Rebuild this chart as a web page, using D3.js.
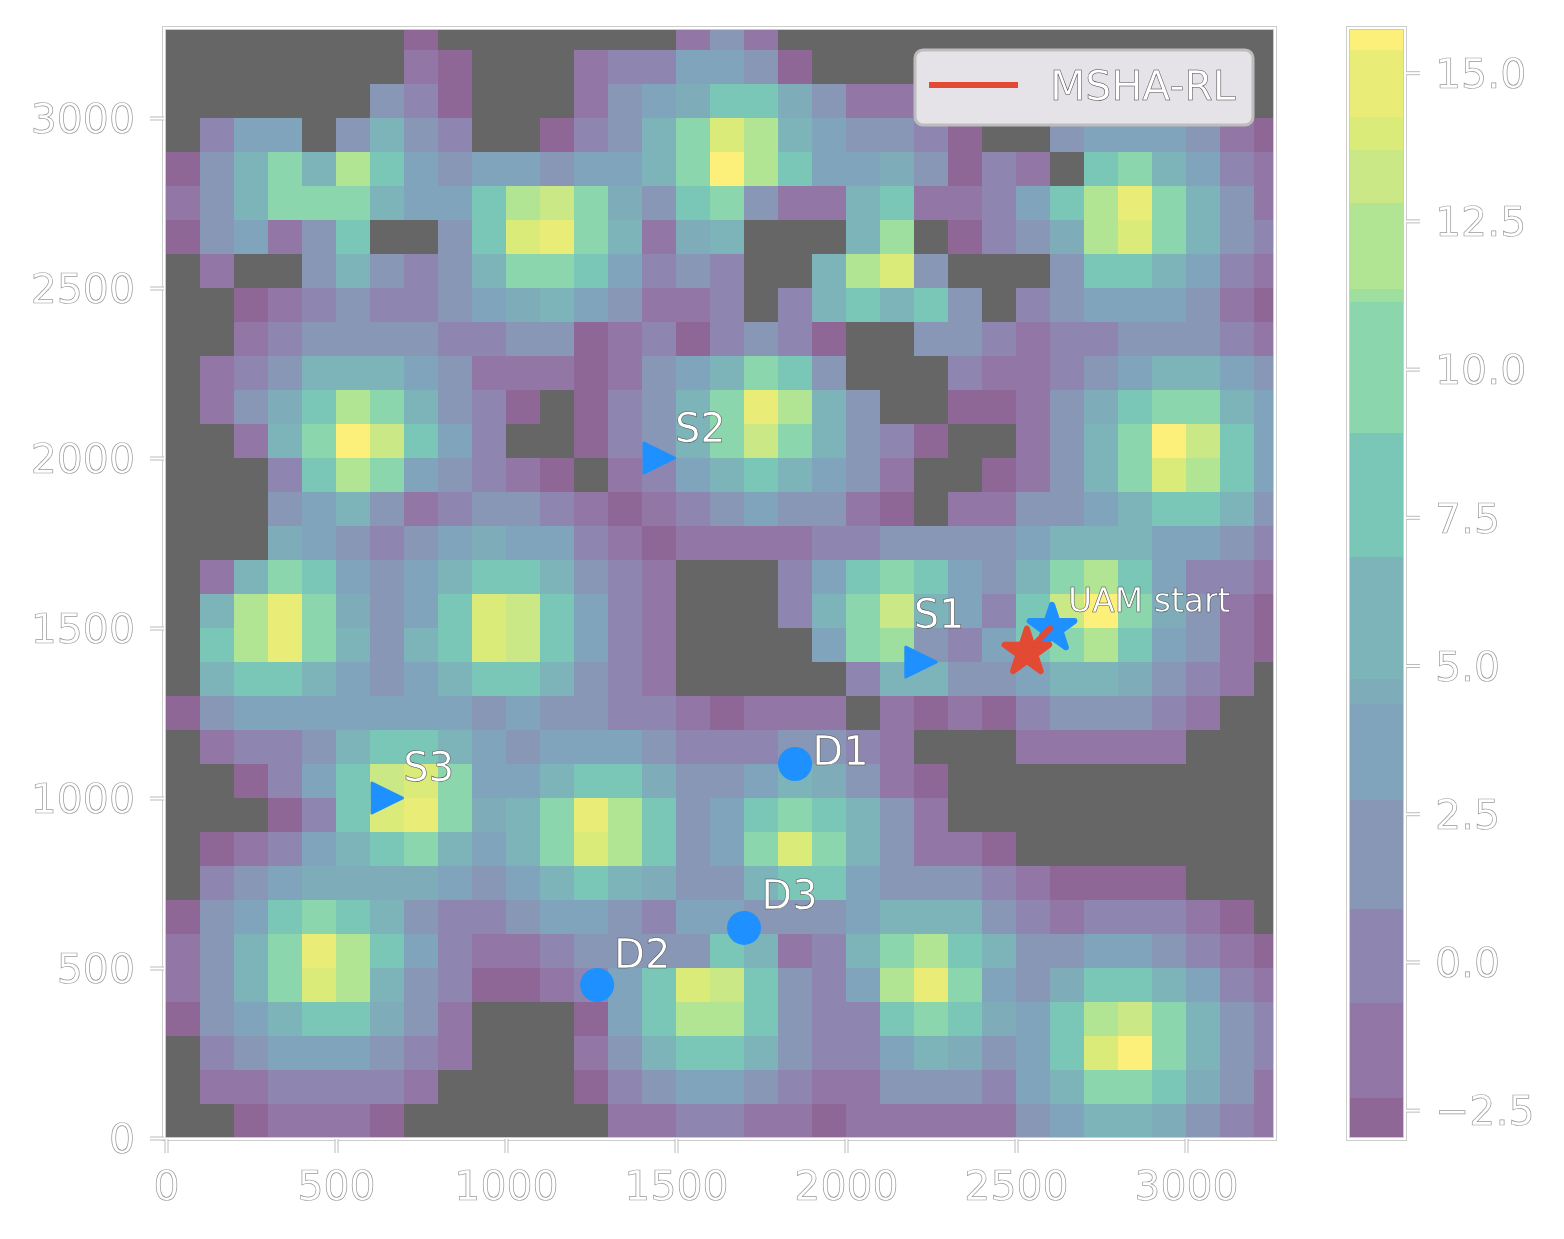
<!DOCTYPE html>
<html>
<head>
<meta charset="utf-8">
<script src="https://cdn.jsdelivr.net/npm/d3@7"></script>
<style>
  body { margin: 0; background: #fff; }
  text { font-family: "DejaVu Sans", sans-serif; filter: grayscale(1); }
</style>
</head>
<body>
<script>
// Data set
const _ = null; // no value, drawn grey
// rows run from the top of the map (y = 3200) to the bottom (y = 0)
const grid = [
[_,_,_,_,_,_,_,-2.6,_,_,_,_,_,_,_,-1.5,1.8,-1.5,_,_,_,_,_,_,_,_,_,_,_,_,_,_,_],
[_,_,_,_,_,_,_,-1.5,-2.6,_,_,_,-1.5,0,0,3.5,3.5,1.8,-2.6,_,_,_,_,_,_,_,_,_,_,_,_,_,_],
[_,_,_,_,_,_,1.8,0,-2.6,_,_,_,-1.5,1.8,3.5,4.6,7.9,7.9,4.6,1.8,-1.5,-1.5,_,_,_,_,_,_,_,_,_,_,_],
[_,0,3.5,3.5,_,1.8,5.8,1.8,0,_,_,-2.6,0,1.8,5.8,10,14,12,5.8,3.5,1.8,1.8,0,-2.6,_,_,1.8,3.5,3.5,3.5,1.8,-1.5,-2.6],
[-2.6,1.8,5.8,10,5.8,12,7.9,3.5,1.8,3.5,3.5,1.8,3.5,3.5,5.8,10,15.5,12,7.9,3.5,3.5,4.6,1.8,-2.6,0,-1.5,_,7.9,10,5.8,3.5,0,-1.5],
[-1.5,1.8,5.8,10,10,10,5.8,3.5,3.5,7.9,12,13.2,10,4.6,1.8,7.9,10,1.8,-1.5,-1.5,5.8,7.9,-1.5,-1.5,0,3.5,7.9,12,14.8,10,5.8,1.8,-1.5],
[-2.6,1.8,3.5,-1.5,1.8,7.9,_,_,1.8,7.9,14,14.8,10,5.8,-1.5,4.6,5.8,_,_,_,5.8,11.2,_,-2.6,0,1.8,4.6,12,14,10,5.8,1.8,0],
[_,-1.5,_,_,1.8,5.8,1.8,0,1.8,5.8,10,10,7.9,3.5,0,1.8,0,_,_,5.8,12,14,1.8,_,_,_,1.8,7.9,7.9,5.8,3.5,0,-1.5],
[_,_,-2.6,-1.5,0,1.8,0,0,1.8,3.5,4.6,5.8,3.5,1.8,-1.5,-1.5,0,_,0,5.8,7.9,5.8,7.9,1.8,_,0,1.8,3.5,3.5,3.5,1.8,-1.5,-2.6],
[_,_,-1.5,0,1.8,1.8,1.8,1.8,0,0,1.8,1.8,-2.6,-1.5,0,-2.6,0,1.8,0,-2.6,_,_,1.8,1.8,0,-1.5,0,0,1.8,1.8,1.8,0,-1.5],
[_,-1.5,0,1.8,5.8,5.8,5.8,3.5,1.8,-1.5,-1.5,-1.5,-2.6,-1.5,1.8,3.5,5.8,10,7.9,1.8,_,_,_,0,-1.5,-1.5,0,1.8,3.5,5.8,5.8,3.5,1.8],
[_,-1.5,1.8,4.6,7.9,12,10,5.8,1.8,0,-2.6,_,-2.6,0,1.8,5.8,10,14.8,12,5.8,1.8,_,_,-2.6,-2.6,-1.5,1.8,4.6,7.9,10,10,5.8,3.5],
[_,_,-1.5,5.8,10,15.5,13.2,7.9,3.5,0,_,_,-2.6,0,1.8,5.8,10,13.2,10,5.8,1.8,0,-2.6,_,_,-1.5,1.8,5.8,10,15.5,13.2,7.9,3.5],
[_,_,_,0,7.9,12,10,3.5,1.8,0,-1.5,-2.6,_,-1.5,0,3.5,5.8,7.9,5.8,3.5,1.8,-1.5,_,_,-2.6,-1.5,1.8,5.8,10,14,12,7.9,3.5],
[_,_,_,1.8,3.5,5.8,1.8,-1.5,0,1.8,1.8,0,-1.5,-2.6,-1.5,0,1.8,3.5,1.8,1.8,-1.5,-2.6,_,-1.5,-1.5,1.8,1.8,3.5,5.8,7.9,7.9,5.8,1.8],
[_,_,_,4.6,3.5,1.8,0,1.8,3.5,4.6,3.5,3.5,0,-1.5,-2.6,-1.5,-1.5,-1.5,-1.5,0,0,1.8,1.8,1.8,1.8,3.5,5.8,5.8,5.8,3.5,3.5,1.8,0],
[_,-1.5,5.8,10,7.9,3.5,1.8,3.5,5.8,7.9,7.9,5.8,1.8,0,-1.5,_,_,_,0,3.5,7.9,10,7.9,3.5,1.8,5.8,10,12,7.9,3.5,0,0,-1.5],
[_,5.8,12,14.8,10,4.6,1.8,3.5,7.9,14,13.2,7.9,3.5,0,-1.5,_,_,_,0,5.8,10,13.2,5.8,3.5,0,7.9,13.2,15.5,10,4.6,1.8,-1.5,-2.6],
[_,7.9,12,14.8,10,5.8,1.8,5.8,7.9,14,13.2,7.9,3.5,0,-1.5,_,_,_,_,3.5,10,11.2,1.8,0,3.5,7.9,10,12,7.9,3.5,1.8,-1.5,-2.6],
[_,5.8,7.9,7.9,5.8,3.5,1.8,3.5,5.8,7.9,7.9,5.8,1.8,0,-1.5,_,_,_,_,_,0,5.8,5.8,1.8,1.8,3.5,5.8,5.8,4.6,1.8,0,-1.5,_],
[-2.6,1.8,3.5,3.5,3.5,3.5,3.5,3.5,3.5,1.8,3.5,1.8,1.8,0,0,-1.5,-2.6,-1.5,-1.5,-1.5,_,-1.5,-2.6,-1.5,-2.6,0,1.8,1.8,1.8,0,-1.5,_,_],
[_,-1.5,0,0,1.8,5.8,7.9,7.9,5.8,3.5,1.8,3.5,3.5,3.5,1.8,0,0,0,1.8,1.8,0,-1.5,_,_,_,-1.5,-1.5,-1.5,-1.5,-1.5,_,_,_],
[_,_,-2.6,0,3.5,7.9,13.2,14,10,3.5,3.5,5.8,7.9,7.9,4.6,1.8,1.8,3.5,5.8,4.6,1.8,-1.5,-2.6,_,_,_,_,_,_,_,_,_,_],
[_,_,_,-2.6,0,7.9,14,14.8,10,4.6,5.8,10,14.8,12,7.9,1.8,3.5,7.9,10,7.9,5.8,1.8,-1.5,_,_,_,_,_,_,_,_,_,_],
[_,-2.6,-1.5,0,3.5,5.8,7.9,10,5.8,3.5,5.8,10,14,12,7.9,1.8,3.5,10,14,10,5.8,1.8,-1.5,-1.5,-2.6,_,_,_,_,_,_,_,_],
[_,0,1.8,3.5,4.6,4.6,4.6,4.6,3.5,1.8,3.5,5.8,7.9,5.8,4.6,1.8,1.8,5.8,7.9,7.9,3.5,1.8,1.8,1.8,0,-1.5,-2.6,-2.6,-2.6,-2.6,_,_,_],
[-2.6,1.8,3.5,7.9,10,7.9,5.8,1.8,0,0,1.8,3.5,3.5,1.8,0,3.5,3.5,1.8,1.8,1.8,3.5,5.8,5.8,5.8,1.8,0,-1.5,0,0,0,-1.5,-2.6,_],
[-1.5,1.8,5.8,10,14.8,12,7.9,3.5,0,-1.5,-1.5,0,1.8,1.8,1.8,1.8,7.9,5.8,-1.5,0,5.8,10,12,7.9,5.8,1.8,1.8,3.5,3.5,1.8,0,-1.5,-2.6],
[-1.5,1.8,5.8,10,14,12,5.8,1.8,0,-2.6,-2.6,-1.5,0,3.5,7.9,14,13.2,7.9,1.8,0,3.5,12,14.8,10,3.5,1.8,4.6,7.9,7.9,5.8,3.5,0,-1.5],
[-2.6,1.8,3.5,5.8,7.9,7.9,4.6,1.8,-1.5,_,_,_,-2.6,3.5,7.9,12,12,7.9,1.8,0,0,7.9,10,7.9,4.6,3.5,7.9,12,13.2,10,5.8,1.8,0],
[_,0,1.8,3.5,3.5,3.5,1.8,0,-1.5,_,_,_,-1.5,1.8,5.8,7.9,7.9,5.8,1.8,0,0,3.5,5.8,4.6,1.8,3.5,7.9,14,15.5,10,5.8,1.8,0],
[_,-1.5,-1.5,0,0,0,0,-1.5,_,_,_,_,-2.6,0,1.8,3.5,3.5,1.8,0,-1.5,-1.5,1.8,1.8,1.8,0,3.5,5.8,10,10,7.9,4.6,1.8,-1.5],
[_,_,-2.6,-1.5,-1.5,-1.5,-2.6,_,_,_,_,_,_,-1.5,-1.5,0,0,-1.5,-1.5,-2.6,-1.5,-1.5,-1.5,-1.5,-1.5,1.8,3.5,5.8,5.8,4.6,1.8,0,-1.5]
];

// colour levels
const levelBounds = [-2.3, -0.7, 0.9, 2.73, 4.35, 4.78, 6.83, 8.93, 11.13, 11.35, 12.8, 13.7, 14.26, 15.38];
const levelColors = ['#8F6797', '#9276A5', '#8E86B1', '#8897B6', '#80A4BB', '#7EACB8', '#7CB4BA', '#7AC6B7',
  '#8BD6AC', '#9EDF9F', '#B1E594', '#CAE886', '#DBEB7A', '#E9EC76', '#FCF07A'];
const colorDomain = [-2.97, 15.72];
const colorTicks = [-2.5, 0, 2.5, 5, 7.5, 10, 12.5, 15];
const axisTicks = [0, 500, 1000, 1500, 2000, 2500, 3000];

// Markers
const sourceNames = ['S1', 'S2', 'S3'];
const sourceX = [2220, 1450, 650];
const sourceY = [1400, 2000, 1000];
const sourceLabelX = [2199, 1497, 698];
const sourceLabelY = [1500, 2048, 1050];
const droneNames = ['D1', 'D2', 'D3'];
const droneX = [1850, 1268, 1700];
const droneY = [1100, 450, 618];
const droneLabelX = [1901, 1318, 1751];
const droneLabelY = [1098, 500, 673];
const pathX = [2606, 2532];
const pathY = [1505, 1429];
const startLabel = 'UAM start';
const legendLabel = 'MSHA-RL';

// Dimensions
const width = 1564;
const height = 1239;
const plot = { left: 166, right: 1274, top: 30, bottom: 1138 };
const bar = { left: 1350, right: 1404 };
const blue = '#1E90FF';
const red = '#E34A33';

// Create SVG container
const svg = d3.select('body')
  .append('svg')
  .attr('width', width)
  .attr('height', height)
  .style('display', 'block');

// Scales
const maxXY = 3258.8;
const x = d3.scaleLinear().domain([0, maxXY]).range([plot.left, plot.right]);
const y = d3.scaleLinear().domain([0, maxXY]).range([plot.bottom, plot.top]);
const color = d3.scaleThreshold().domain(levelBounds).range(levelColors);
const barY = d3.scaleLinear().domain(colorDomain).range([plot.bottom, plot.top]);

// Map cells
const cells = grid.flatMap((row, r) => row.map((v, c) => ({ v, c, r: grid.length - 1 - r })));
svg.append('g')
  .attr('shape-rendering', 'crispEdges')
  .selectAll('rect')
  .data(cells)
  .enter()
  .append('rect')
  .attr('x', d => x(d.c * 100))
  .attr('width', d => x(Math.min((d.c + 1) * 100, maxXY)) - x(d.c * 100))
  .attr('y', d => y(Math.min((d.r + 1) * 100, maxXY)))
  .attr('height', d => y(d.r * 100) - y(Math.min((d.r + 1) * 100, maxXY)))
  .attr('fill', d => d.v === null ? '#666666' : color(d.v));

// Spines and ticks are white with a thin grey edge
function outlinedFrame(x0, y0, w, h) {
  svg.append('rect').attr('x', x0).attr('y', y0).attr('width', w).attr('height', h)
    .attr('fill', 'none').attr('stroke', '#cccccc').attr('stroke-width', 4);
  svg.append('rect').attr('x', x0).attr('y', y0).attr('width', w).attr('height', h)
    .attr('fill', 'none').attr('stroke', '#ffffff').attr('stroke-width', 2);
}

function styleAxis(g) {
  g.select('.domain').remove();
  g.selectAll('.tick line').each(function () {
    const line = d3.select(this);
    const inner = this.cloneNode();
    this.parentNode.insertBefore(inner, this.nextSibling);
    line.attr('stroke', '#bbbbbb').attr('stroke-width', 4);
    d3.select(inner).attr('stroke', '#ffffff').attr('stroke-width', 2);
  });
  g.selectAll('.tick text')
    .attr('fill', '#ffffff')
    .attr('stroke', '#9a9a9a')
    .attr('stroke-width', 0.7)
    .style('font-size', '41px');
}

outlinedFrame(plot.left - 2, plot.top - 2, plot.right - plot.left + 3, plot.bottom - plot.top + 3);

svg.append('g')
  .attr('transform', `translate(0, ${plot.bottom + 1})`)
  .call(d3.axisBottom(x).tickValues(axisTicks).tickFormat(d3.format('d')).tickSize(14).tickPadding(18).tickSizeOuter(0))
  .call(styleAxis);

svg.append('g')
  .attr('transform', `translate(${plot.left - 2}, 0)`)
  .call(d3.axisLeft(y).tickValues(axisTicks).tickFormat(d3.format('d')).tickSize(14).tickPadding(15).tickSizeOuter(0))
  .call(styleAxis)
  .selectAll('text')
  .attr('dy', '0.36em');

// Colorbar
const barEdges = [colorDomain[0], ...levelBounds, colorDomain[1]];
svg.append('g')
  .attr('shape-rendering', 'crispEdges')
  .selectAll('rect')
  .data(levelColors)
  .enter()
  .append('rect')
  .attr('x', bar.left)
  .attr('width', bar.right - bar.left)
  .attr('y', (d, i) => barY(barEdges[i + 1]))
  .attr('height', (d, i) => barY(barEdges[i]) - barY(barEdges[i + 1]))
  .attr('fill', d => d);

outlinedFrame(bar.left - 2, plot.top - 2, bar.right - bar.left + 3, plot.bottom - plot.top + 3);

svg.append('g')
  .attr('transform', `translate(${bar.right + 2}, 0)`)
  .call(d3.axisRight(barY).tickValues(colorTicks).tickFormat(d3.format('.1f')).tickSize(14).tickPadding(15).tickSizeOuter(0))
  .call(styleAxis)
  .selectAll('text')
  .attr('dy', '0.36em');

// Marker labels
function label(px, py, str, size) {
  svg.append('text')
    .attr('x', px)
    .attr('y', py)
    .attr('fill', '#ffffff')
    .attr('stroke', '#444444')
    .attr('stroke-width', 0.5)
    .style('font-size', `${size}px`)
    .text(str);
}

// Sources (triangles)
const triangle = [[-15, -15], [15.5, 0], [-15, 15]];
svg.selectAll('.source')
  .data(sourceNames)
  .enter()
  .append('path')
  .attr('class', 'source')
  .attr('transform', (d, i) => `translate(${x(sourceX[i])}, ${y(sourceY[i])})`)
  .attr('d', `M${triangle.join('L')}Z`)
  .attr('fill', blue)
  .attr('stroke', blue)
  .attr('stroke-width', 3)
  .attr('stroke-linejoin', 'round');

// Drones (circles)
svg.selectAll('.drone')
  .data(droneNames)
  .enter()
  .append('circle')
  .attr('class', 'drone')
  .attr('cx', (d, i) => x(droneX[i]))
  .attr('cy', (d, i) => y(droneY[i]))
  .attr('r', 17)
  .attr('fill', blue);

// Start and current position (stars) with the path between them
const star = d3.symbol().type(d3.symbolStar).size(620);
svg.append('path')
  .attr('transform', `translate(${x(pathX[0])}, ${y(pathY[0]) + 2})`)
  .attr('d', star())
  .attr('fill', blue)
  .attr('stroke', blue)
  .attr('stroke-width', 6)
  .attr('stroke-linejoin', 'round');

svg.append('path')
  .datum(pathX.map((d, i) => [d, pathY[i]]))
  .attr('d', d3.line().x(d => x(d[0])).y(d => y(d[1])))
  .attr('fill', 'none')
  .attr('stroke', red)
  .attr('stroke-width', 6);

svg.append('path')
  .attr('transform', `translate(${x(pathX[1])}, ${y(pathY[1])})`)
  .attr('d', star())
  .attr('fill', red)
  .attr('stroke', red)
  .attr('stroke-width', 6)
  .attr('stroke-linejoin', 'round');

sourceNames.forEach((d, i) => label(x(sourceLabelX[i]), y(sourceLabelY[i]), d, 40));
droneNames.forEach((d, i) => label(x(droneLabelX[i]), y(droneLabelY[i]), d, 40));
label(1068, 612, startLabel, 33);

// Legend
svg.append('rect')
  .attr('x', 915)
  .attr('y', 50)
  .attr('width', 338)
  .attr('height', 75)
  .attr('rx', 8)
  .attr('fill', '#E5E3E8')
  .attr('stroke', '#BDBDBD')
  .attr('stroke-width', 3);
svg.append('line')
  .attr('x1', 929)
  .attr('x2', 1018)
  .attr('y1', 85)
  .attr('y2', 85)
  .attr('stroke', red)
  .attr('stroke-width', 6);
label(1050, 100, legendLabel, 41);
</script>
</body>
</html>
